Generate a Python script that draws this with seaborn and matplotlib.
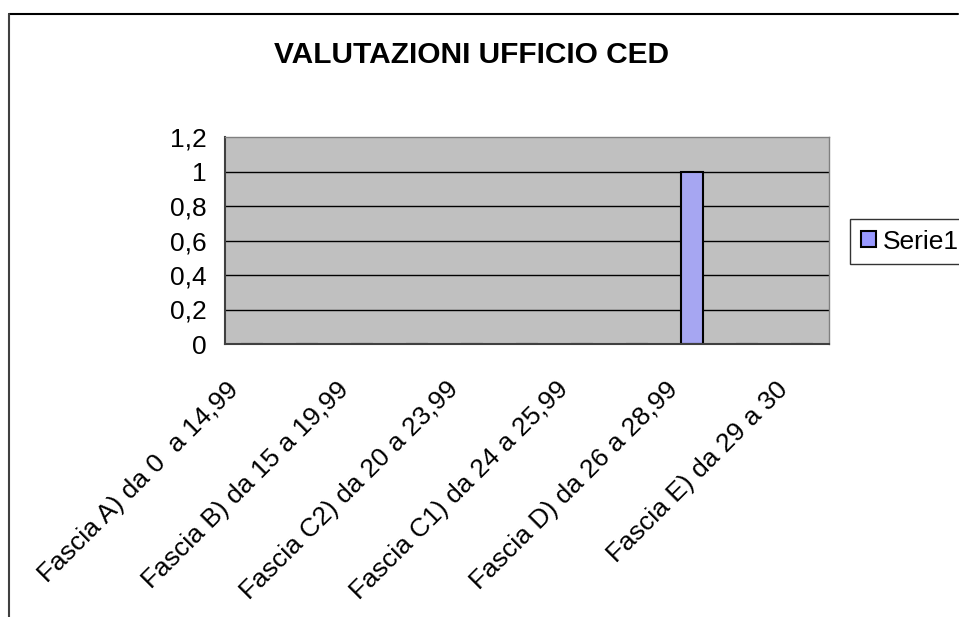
import seaborn as sns
import matplotlib.pyplot as plt
import pandas as pd
from matplotlib.lines import Line2D
from matplotlib.transforms import ScaledTranslation

# Data (11 category slots, only every other one is labelled)
positions = list(range(11))
values = [0, 0, 0, 0, 0, 0, 0, 0, 1, 0, 0]
labelled_positions = [0, 2, 4, 6, 8, 10]
tick_labels = ['Fascia A) da 0  a 14,99', 'Fascia B) da 15 a 19,99',
               'Fascia C2) da 20 a 23,99', 'Fascia C1) da 24 a 25,99',
               'Fascia D) da 26 a 28,99', 'Fascia E) da 29 a 30']
y_ticks = [0, 0.2, 0.4, 0.6, 0.8, 1.0, 1.2]
y_tick_labels = ['0', '0,2', '0,4', '0,6', '0,8', '1', '1,2']
series_name = 'Serie1'

df = pd.DataFrame({'pos': positions, 'valore': values, 'serie': series_name})

sns.set_style("white")
plt.rcParams['font.family'] = ['Liberation Sans', 'DejaVu Sans']
plt.rcParams['text.color'] = 'black'
plt.rcParams['xtick.color'] = 'black'
plt.rcParams['ytick.color'] = 'black'

fig = plt.figure(figsize=(9.59, 6.17), dpi=100)
ax = fig.add_axes([225 / 959, 1 - 344 / 617, 604 / 959, 207 / 617])
ax.set_facecolor('#C0C0C0')

sns.barplot(data=df, x='pos', y='valore', hue='serie', palette=['#9999FF'],
            width=0.4, edgecolor='black', linewidth=1.5, ax=ax, legend=False)

ax.set_xlim(-0.5, 10.5)
ax.set_ylim(0, 1.2)

# horizontal gridlines
for y in y_ticks[1:-1]:
    ax.axhline(y, color='black', linewidth=1, zorder=0.5)

ax.set_yticks(y_ticks)
ax.set_yticklabels(y_tick_labels, fontsize=19)
ax.tick_params(axis='y', length=6, width=1, color='black', pad=7)

# tick marks at category boundaries, labels at category centres
ax.set_xticks([p - 0.5 for p in positions] + [10.5])
ax.set_xticklabels([])
ax.tick_params(axis='x', which='major', length=5, width=1, color='#404040')
ax.set_xticks(labelled_positions, minor=True)
ax.set_xticklabels(tick_labels, minor=True, rotation=45, ha='right',
                   va='top', rotation_mode='anchor', fontsize=19)
ax.tick_params(axis='x', which='minor', length=0, pad=24)
shift = ScaledTranslation(-0.26, 0, fig.dpi_scale_trans)
for lab in ax.get_xticklabels(minor=True):
    lab.set_transform(lab.get_transform() + shift)
ax.set_xlabel('')
ax.set_ylabel('')

for side in ['left', 'bottom']:
    ax.spines[side].set_color('#404040')
    ax.spines[side].set_linewidth(1.5)
for side in ['top', 'right']:
    ax.spines[side].set_color('#808080')
    ax.spines[side].set_linewidth(1)

fig.text(472 / 959, 1 - 55 / 617, 'VALUTAZIONI UFFICIO CED', ha='center',
         va='center', fontsize=21.5, fontweight='bold', color='black')

handle = plt.Rectangle((0, 0), 1, 1, facecolor='#9999FF', edgecolor='black',
                       linewidth=1.5)
fig.legend([handle], [series_name], loc='upper left',
           bbox_to_anchor=(850 / 959, 1 - 219 / 617), fontsize=19,
           frameon=True, fancybox=False, edgecolor='black', borderpad=0.4,
           handlelength=0.58, handleheight=0.58, handletextpad=0.25,
           borderaxespad=0)

# outer chart frame (cut off on the right and bottom)
fig.add_artist(Line2D([9 / 959, 958 / 959], [1 - 14 / 617, 1 - 14 / 617],
                      color='black', linewidth=1.5, transform=fig.transFigure))
fig.add_artist(Line2D([9 / 959, 9 / 959], [1 - 14 / 617, 0],
                      color='#404040', linewidth=1.5, transform=fig.transFigure))

fig.savefig('out.png', dpi=100)
